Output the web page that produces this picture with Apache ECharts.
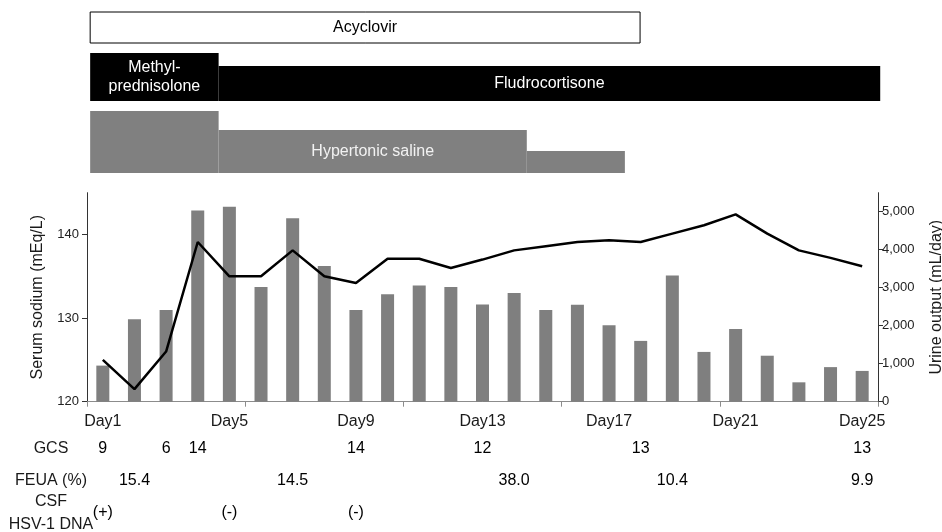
<!DOCTYPE html>
<html>
<head>
<meta charset="utf-8">
<script src="https://cdn.jsdelivr.net/npm/echarts@6/dist/echarts.min.js"></script>
<style>
html,body{margin:0;padding:0;background:#fff;}
#c{width:942px;height:532px;}
</style>
</head>
<body>
<div id="c"></div>
<script>
// ---- data ----
const days = ['Day1','Day2','Day3','Day4','Day5','Day6','Day7','Day8','Day9','Day10','Day11','Day12','Day13',
  'Day14','Day15','Day16','Day17','Day18','Day19','Day20','Day21','Day22','Day23','Day24','Day25'];
const serumSodium = [125.0,121.5,126.0,139.1,135.0,135.0,138.1,135.0,134.2,137.1,137.1,136.0,137.0,
  138.1,138.6,139.1,139.3,139.1,140.1,141.1,142.4,140.1,138.1,137.2,136.2];
const urineOutput = [950,2170,2410,5030,5130,3020,4830,3570,2410,2830,3060,3020,2560,
  2860,2410,2550,2010,1600,3320,1310,1910,1210,510,910,810];
const sodiumTicks = [120,130,140];
const urineTicks = [0,1000,2000,3000,4000,5000];

// treatment timeline (x in day units from start of Day1)
const drugName  = ['Acyclovir','Methyl-\nprednisolone','Fludrocortisone','','Hypertonic saline',''];
const drugRow   = [2,1,1,0,0,0];
const drugStart = [0.1,0.1,4.16,0.1,4.16,13.9];
const drugEnd   = [17.48,4.16,25.07,4.16,13.9,17.0];
const drugLevel = [3.1,4.8,3.5,6.2,4.3,2.2];

// table rows
const tableRows = ['GCS','FEUA (%)','CSF\nHSV-1 DNA'];
const gcsDays = [1,3,4,9,13,18,25];
const gcsVals = ['9','6','14','14','12','13','13'];
const feuaDays = [2,7,14,19,25];
const feuaVals = ['15.4','14.5','38.0','10.4','9.9'];
const csfDays = [1,5,9];
const csfVals = ['(+)','(-)','(-)'];

// ---- chart ----
const FONT = '"Liberation Sans", Arial, sans-serif';
const rowBase = [0.7, 7.9, 13.7];
const rowFill = ['#808080', '#000000', '#ffffff'];
const rowText = ['#f2f2f2', '#ffffff', '#000000'];

const timeline = drugName.map((n,i)=>[drugStart[i], drugEnd[i], drugRow[i], drugLevel[i], i]);

function tableData(ds, vs, row){ return ds.map((d,i)=>({value:[d-1, row], text: vs[i]})); }
const tableItems = tableData(gcsDays, gcsVals, 0).concat(tableData(feuaDays, feuaVals, 1), tableData(csfDays, csfVals, 2));

const chart = echarts.init(document.getElementById('c'), null, {renderer:'canvas'});
chart.setOption({
  animation: false,
  backgroundColor: '#fff',
  textStyle: {fontFamily: FONT},
  grid: [
    {left: 87, right: 64, top: 192.7, bottom: 130.3, outerBoundsMode:'none', containLabel:false},
    {left: 87, right: 64, top: 0, height: 180, outerBoundsMode:'none', containLabel:false},
    {left: 87, right: 64, top: 433, height: 96, outerBoundsMode:'none', containLabel:false}
  ],
  xAxis: [
    {type:'category', gridIndex:0, data: days, boundaryGap: true,
     axisLine:{lineStyle:{color:'#8c8c8c', width:1}},
     axisTick:{show:true, interval:4, length:5, lineStyle:{color:'#8c8c8c'}},
     axisLabel:{interval:3, fontSize:16, color:'#1a1a1a', margin:12, fontFamily: FONT}},
    {type:'value', gridIndex:1, min:0, max:25, show:false},
    {type:'category', gridIndex:2, data: days, boundaryGap: true, show:false}
  ],
  yAxis: [
    {type:'value', gridIndex:0, min:120, max:145, position:'left',
     name:'Serum sodium (mEq/L)', nameLocation:'middle', nameGap:41, nameRotate:90,
     nameTextStyle:{fontSize:16, color:'#1a1a1a', fontFamily: FONT},
     axisLine:{show:true, lineStyle:{color:'#333', width:1}},
     axisTick:{show:true, length:5, customValues: sodiumTicks, lineStyle:{color:'#333'}},
     axisLabel:{customValues: sodiumTicks, fontSize:13, color:'#222', margin:8, fontFamily: FONT},
     splitLine:{show:false}},
    {type:'value', gridIndex:0, min:0, max:5500, position:'right',
     name:'Urine output (mL/day)', nameLocation:'middle', nameGap:51, nameRotate:90,
     nameTextStyle:{fontSize:16, color:'#1a1a1a', fontFamily: FONT},
     axisLine:{show:true, lineStyle:{color:'#333', width:1}},
     axisTick:{show:true, length:5, customValues: urineTicks, lineStyle:{color:'#333'}},
     axisLabel:{customValues: urineTicks, fontSize:13, color:'#222', margin:4, fontFamily: FONT,
       formatter: v => Number(v).toLocaleString('en-US')},
     splitLine:{show:false}},
    {type:'value', gridIndex:1, min:0, max:18, show:false},
    {type:'category', gridIndex:2, data: tableRows, inverse:true, boundaryGap:true,
     axisLine:{show:false}, axisTick:{show:false}, splitLine:{show:false},
     axisLabel:{show:true, interval:0, align:'center', margin:36, fontSize:16, color:'#1a1a1a', lineHeight:23, fontFamily: FONT}}
  ],
  series: [
    {type:'bar', name:'Urine output', xAxisIndex:0, yAxisIndex:1, data: urineOutput,
     barWidth:13, itemStyle:{color:'#7f7f7f'}, z:2},
    {type:'line', name:'Serum sodium', xAxisIndex:0, yAxisIndex:0, data: serumSodium,
     showSymbol:false, symbol:'none', lineStyle:{color:'#000', width:2.5}, z:3},
    {type:'custom', xAxisIndex:1, yAxisIndex:2, data: timeline, clip:false,
     renderItem: function(params, api){
       const s = api.value(0), e = api.value(1), r = api.value(2), lv = api.value(3), idx = api.value(4);
       const p0 = api.coord([s, rowBase[r]]);
       const p1 = api.coord([e, rowBase[r] + lv]);
       const x = p0[0], y = p1[1], w = p1[0]-p0[0], h = p0[1]-p1[1];
       const children = [{
         type:'rect', shape:{x:x, y:y, width:w, height:h},
         style:{fill: rowFill[r], stroke: r===2 ? '#000' : null, lineWidth: r===2 ? 1 : 0}
       }];
       if (drugName[idx]) {
         children.push({type:'text', z2:10, style:{
           text: drugName[idx], x: x + w/2, y: y + h/2, align:'center', verticalAlign:'middle',
           fill: rowText[r], fontSize:16, fontFamily: FONT, lineHeight:19}});
       }
       return {type:'group', children: children};
     }},
    {type:'scatter', xAxisIndex:2, yAxisIndex:3, symbolSize:1, itemStyle:{color:'#ffffff', opacity:1},
     data: tableItems,
     label:{show:true, position:'inside', formatter: p => p.data.text, fontSize:16, color:'#000000',
       textBorderWidth:0, opacity:1, fontFamily: FONT},
     emphasis:{disabled:true}}
  ]
});
</script>
</body>
</html>
